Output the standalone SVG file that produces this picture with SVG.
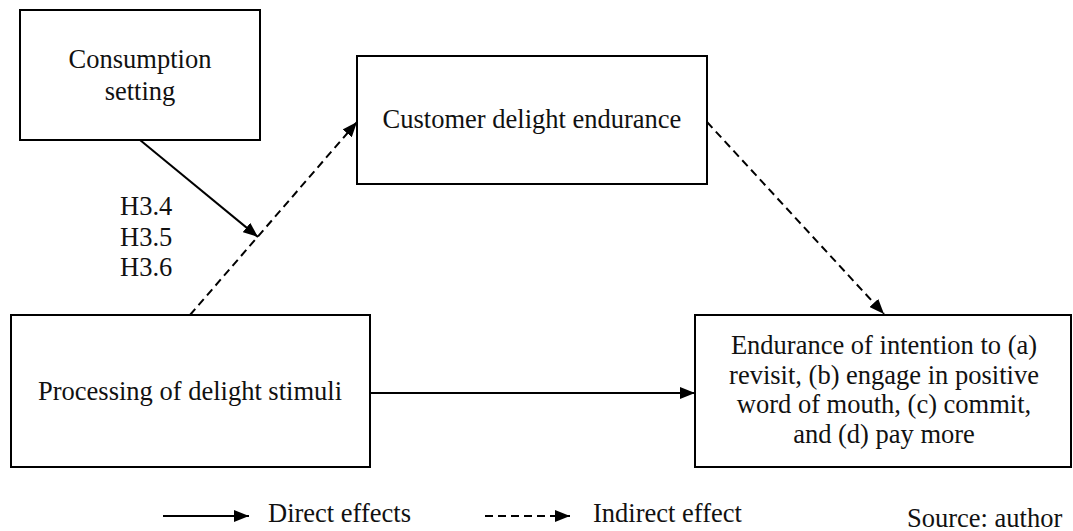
<svg xmlns="http://www.w3.org/2000/svg" width="1073" height="531" viewBox="0 0 1073 531">
  <style>
    .box { fill: #fff; stroke: #000; stroke-width: 2; }
    text { font-family: "Liberation Serif", "Times New Roman", serif; font-size: 26.5px; fill: #111; }
    .mid { text-anchor: middle; }
    .solid { stroke: #000; stroke-width: 2; fill: none; }
    .dash { stroke: #000; stroke-width: 2; fill: none; stroke-dasharray: 8 5; }
  </style>
  <defs>
    <marker id="head" viewBox="0 0 15 12" refX="15" refY="6" markerWidth="15" markerHeight="12" markerUnits="userSpaceOnUse" orient="auto">
      <path d="M0,0 L15,6 L0,12 Z" fill="#000"/>
    </marker>
  </defs>
  <rect width="1073" height="531" fill="#fff"/>

  <g id="consumption-setting">
    <rect class="box" x="20" y="10" width="240" height="130"/>
    <text class="mid" x="140" y="68">Consumption</text>
    <text class="mid" x="140" y="100">setting</text>
  </g>

  <g id="customer-delight-endurance">
    <rect class="box" x="357" y="56" width="350" height="128"/>
    <text class="mid" x="532" y="128">Customer delight endurance</text>
  </g>

  <g id="processing-delight-stimuli">
    <rect class="box" x="11" y="315" width="359" height="152"/>
    <text class="mid" x="190" y="400">Processing of delight stimuli</text>
  </g>

  <g id="endurance-intention">
    <rect class="box" x="695" y="315" width="376" height="152"/>
    <text class="mid" x="884" y="354">Endurance of intention to (a)</text>
    <text class="mid" x="884" y="384">revisit, (b) engage in positive</text>
    <text class="mid" x="884" y="413">word of mouth, (c) commit,</text>
    <text class="mid" x="884" y="443">and (d) pay more</text>
  </g>

  <g id="hypotheses">
    <text x="120" y="215">H3.4</text>
    <text x="120" y="246">H3.5</text>
    <text x="120" y="276">H3.6</text>
  </g>

  <g id="connectors">
    <line class="solid" x1="140" y1="140" x2="258" y2="237" marker-end="url(#head)"/>
    <line class="dash" x1="190" y1="315" x2="357" y2="122" marker-end="url(#head)"/>
    <line class="dash" x1="707" y1="122" x2="884" y2="314" marker-end="url(#head)"/>
    <line class="solid" x1="371" y1="393" x2="695" y2="393" marker-end="url(#head)"/>
  </g>

  <g id="legend">
    <line class="solid" x1="163" y1="516" x2="249" y2="516" marker-end="url(#head)"/>
    <text x="268" y="522">Direct effects</text>
    <line class="dash" x1="485" y1="516" x2="570" y2="516" stroke-dasharray="7 5" marker-end="url(#head)"/>
    <text x="593" y="522">Indirect effect</text>
    <text x="907" y="527">Source: author</text>
  </g>
</svg>
